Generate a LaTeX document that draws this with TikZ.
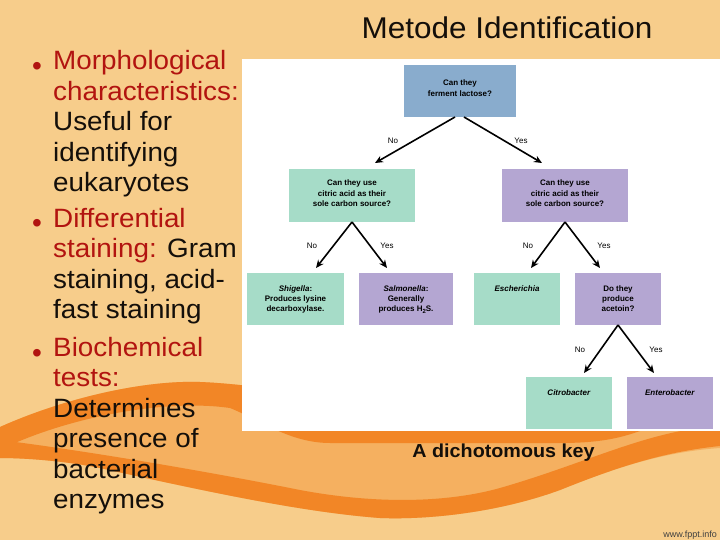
\documentclass[tikz,border=0pt]{standalone}
\usepackage{fontspec}
\setmainfont{Liberation Sans}
\newfontfamily\slidefont{Liberation Sans}[FakeStretch=1.05]
\usetikzlibrary{arrows.meta}
\definecolor{bgl}{RGB}{247,205,139}
\definecolor{kmed}{RGB}{245,176,96}
\definecolor{kdark}{RGB}{242,134,38}
\definecolor{kblue}{RGB}{137,172,205}
\definecolor{kgreen}{RGB}{166,220,200}
\definecolor{kpurple}{RGB}{180,166,210}
\definecolor{kred}{RGB}{178,20,16}
\definecolor{ktext}{RGB}{20,15,10}
\newcommand\bxt[4]{\parbox[c][#1pt][t]{#2pt}{\centering\rule{0pt}{#3pt}#4}}
\newcommand\subtwo{\raisebox{-0.25em}{\fontsize{6}{6}\selectfont 2}}
\begin{document}
\begin{tikzpicture}[x=1pt,y=-1pt,
  kbox/.style={inner sep=0pt,outer sep=0pt,font=\bfseries\fontsize{8}{10.3}\selectfont},
  lab/.style={inner sep=0pt,font=\fontsize{8}{9}\selectfont},
  arr/.style={line width=1.6pt,-{Stealth[length=8pt,width=7pt]}},
  bl/.style={anchor=base west,inner sep=0pt,font=\slidefont\fontsize{26.5}{30.5}\selectfont},
  bul/.style={anchor=base,inner sep=0pt,text=kred,font=\fontsize{28}{32}\selectfont}]
\useasboundingbox (0,0) rectangle (720,540);
% background
\fill[bgl] (0,0) rectangle (720,540);
\fill[kmed] (0,427) .. controls (60,400) and (140,380) .. (200,382) .. controls (300,386) and (450,425) .. (720,428) -- (720,448) .. controls (660,452) and (610,470) .. (560,490) .. controls (500,512) and (430,520) .. (380,518) .. controls (300,512) and (200,490) .. (100,468) .. controls (60,460) and (20,458) .. (0,458) -- cycle;
\fill[kdark] (0,427) .. controls (60,400) and (140,380) .. (200,382) .. controls (300,386) and (450,425) .. (640,431) .. controls (620,438) and (600,443) .. (560,443) -- (330,443) .. controls (290,443) and (260,420) .. (230,408) .. controls (160,398) and (60,420) .. (0,450) -- cycle;
\fill[kdark] (0,440) .. controls (80,450) and (200,470) .. (300,490) .. controls (380,505) and (450,502) .. (500,488) .. controls (580,465) and (640,435) .. (700,428) -- (720,428) -- (720,446) .. controls (660,452) and (610,470) .. (560,490) .. controls (500,512) and (430,520) .. (380,518) .. controls (300,512) and (200,490) .. (100,468) .. controls (60,460) and (20,458) .. (0,458) -- cycle;
% white panel
\fill[white] (242,59) rectangle (720,431);
% title
\node[anchor=base,inner sep=0pt,text=ktext,font=\slidefont\fontsize{30}{36}\selectfont] (title) at (507,39) {Metode Identification};
% boxes
\node[kbox,fill=kblue] (q1) at (460,91) {\bxt{52}{112}{21}{Can they\\ferment lactose?}};
\node[kbox,fill=kgreen] (ml) at (352,195.5) {\bxt{53}{126}{17}{Can they use\\citric acid as their\\sole carbon source?}};
\node[kbox,fill=kpurple] (mr) at (565,195.5) {\bxt{53}{126}{17}{Can they use\\citric acid as their\\sole carbon source?}};
\node[kbox,fill=kgreen] (sh) at (295.5,299) {\bxt{52}{97}{18}{\textit{Shigella}:\\Produces lysine\\decarboxylase.}};
\node[kbox,fill=kpurple] (sa) at (406,299) {\bxt{52}{94}{18}{\textit{Salmonella}:\\Generally\\produces H\subtwo S.}};
\node[kbox,fill=kgreen] (es) at (517,299) {\bxt{52}{86}{18}{\textit{Escherichia}}};
\node[kbox,fill=kpurple] (ac) at (618,299) {\bxt{52}{86}{18}{Do they\\produce\\acetoin?}};
\node[kbox,fill=kgreen] (ci) at (569,403) {\bxt{52}{86}{18}{\textit{Citrobacter}}};
\node[kbox,fill=kpurple] (en) at (670,403) {\bxt{52}{86}{18}{\textit{Enterobacter}}};
% arrows
\draw[arr] ([xshift=-5pt]q1.south) -- ([xshift=23pt,yshift=6pt]ml.north);
\draw[arr] ([xshift=4pt]q1.south) -- ([xshift=-23pt,yshift=6pt]mr.north);
\draw[arr] (ml.south) -- ([xshift=20.5pt,yshift=5pt]sh.north);
\draw[arr] (ml.south) -- ([xshift=-19pt,yshift=5pt]sa.north);
\draw[arr] (mr.south) -- ([xshift=14pt,yshift=5pt]es.north);
\draw[arr] (mr.south) -- ([xshift=-18pt,yshift=5pt]ac.north);
\draw[arr] (ac.south) -- ([xshift=15pt,yshift=4pt]ci.north);
\draw[arr] (ac.south) -- ([xshift=-16pt,yshift=4pt]en.north);
% labels
\node[lab] (n1) at (393,141) {No};
\node[lab] (y1) at (521,141) {Yes};
\node[lab] (n2) at (312,246) {No};
\node[lab] (y2) at (387,246) {Yes};
\node[lab] (n3) at (528,246) {No};
\node[lab] (y3) at (604,246) {Yes};
\node[lab] (n4) at (580,350) {No};
\node[lab] (y4) at (656,350) {Yes};
% caption
\node[anchor=base,inner sep=0pt,text=ktext,font=\slidefont\bfseries\fontsize{18.8}{22}\selectfont] (cap) at (503.5,457) {A dichotomous key};
\node[anchor=base east,inner sep=0pt,text=black!75,font=\fontsize{9}{10}\selectfont] (www) at (717,537) {www.fppt.info};
% bullets
\node[bul] (b1) at (37,76) {•};
\node[bul] (b2) at (37,233) {•};
\node[bul] (b3) at (37,362) {•};
\node[bl,text=kred] (t1) at (53,70) {Morphological};
\node[bl,text=kred] (t2) at (53,100.5) {characteristics:};
\node[bl,text=ktext] (t3) at (53,131) {Useful for};
\node[bl,text=ktext] (t4) at (53,161.5) {identifying};
\node[bl,text=ktext] (t5) at (53,192) {eukaryotes};
\node[bl,text=kred] (t6) at (53,227) {Differential};
\node[bl,text=ktext] (t7) at (53,257.5) {\textcolor{kred}{staining:} Gram};
\node[bl,text=ktext] (t8) at (53,288) {staining, acid-};
\node[bl,text=ktext] (t9) at (53,318.5) {fast staining};
\node[bl,text=kred] (t10) at (53,356) {Biochemical};
\node[bl,text=kred] (t11) at (53,386.5) {tests:};
\node[bl,text=ktext] (t12) at (53,417) {Determines};
\node[bl,text=ktext] (t13) at (53,447.5) {presence of};
\node[bl,text=ktext] (t14) at (53,478) {bacterial};
\node[bl,text=ktext] (t15) at (53,508.5) {enzymes};
\end{tikzpicture}
\end{document}
